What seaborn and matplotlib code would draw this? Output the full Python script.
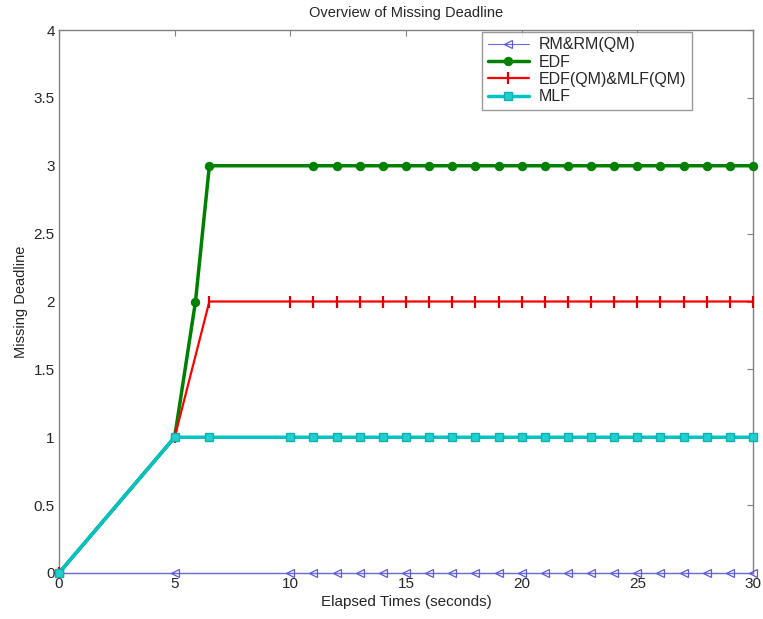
import matplotlib
matplotlib.use("Agg")
import matplotlib.pyplot as plt
import seaborn as sns
import pandas as pd

# Elapsed time (seconds) and missed-deadline counts per scheduling policy
tail = list(range(11, 31))
rm_x = [0, 5, 10] + tail
rm_y = [0] * len(rm_x)

edf_x = [0, 5, 5.9, 6.5] + tail
edf_y = [0, 1, 2, 3] + [3] * len(tail)

edfqm_x = [0, 5, 6.5, 10] + tail
edfqm_y = [0, 1, 2, 2] + [2] * len(tail)

mlf_x = [0, 5, 6.5, 10] + tail
mlf_y = [0, 1, 1, 1] + [1] * len(tail)

x_ticks = [0, 5, 10, 15, 20, 25, 30]
y_ticks = [0, 0.5, 1, 1.5, 2, 2.5, 3, 3.5, 4]
y_tick_labels = ["0", "0.5", "1", "1.5", "2", "2.5", "3", "3.5", "4"]

sns.set_style("white")
plt.rcParams["font.family"] = ["Liberation Sans", "DejaVu Sans"]

fig = plt.figure(figsize=(7.63, 6.19), dpi=100)
ax = fig.add_axes([59 / 763, 1 - 573 / 619, (753 - 59) / 763, (573 - 30) / 619])

series = [
    ("RM&RM(QM)", rm_x, rm_y, dict(color="#6a6ae6", marker="<", markersize=6,
                                   markerfacecolor="none", markeredgecolor="#5a5ae0",
                                   markeredgewidth=0.9, linewidth=0.8)),
    ("EDF", edf_x, edf_y, dict(color="#008000", marker="o", markersize=6,
                               markerfacecolor="#008000", markeredgecolor="#008000",
                               linewidth=2.5)),
    ("EDF(QM)&MLF(QM)", edfqm_x, edfqm_y, dict(color="#ff0000", marker="|", markersize=9,
                                                markeredgecolor="#e00000",
                                                markeredgewidth=1.6, linewidth=1.6)),
    ("MLF", mlf_x, mlf_y, dict(color="#00c4c4", marker="s", markersize=6,
                               markerfacecolor="#20d0d0", markeredgecolor="#10b0b0",
                               markeredgewidth=1.0, linewidth=2.5)),
]

for name, xs, ys, style in series:
    df = pd.DataFrame({"t": xs, "v": ys})
    sns.lineplot(data=df, x="t", y="v", ax=ax, sort=False, label=name,
                 estimator=None, clip_on=False, zorder=3, **style)

ax.set_xlim(0, 30)
ax.set_ylim(0, 4)
ax.set_xticks(x_ticks)
ax.set_xticklabels([str(t) for t in x_ticks])
ax.set_yticks(y_ticks)
ax.set_yticklabels(y_tick_labels)
ax.tick_params(direction="in", length=4, color="#808080", labelsize=11,
               top=True, right=True, pad=3)
for sp in ax.spines.values():
    sp.set_color("#808080")
    sp.set_linewidth(1.0)
    sp.set_zorder(1)

ax.set_xlabel("Elapsed Times (seconds)", fontsize=11, labelpad=3)
ax.set_ylabel("Missing Deadline", fontsize=10.5, labelpad=4)
ax.set_title("Overview of Missing Deadline", fontsize=10.5, pad=9)

leg = ax.legend(loc="upper right", bbox_to_anchor=(0.912, 0.997), fontsize=11.5,
                frameon=True, fancybox=False, borderpad=0.35, labelspacing=0.15,
                handlelength=2.6, handletextpad=0.6, borderaxespad=0)
leg.get_frame().set_edgecolor("#808080")
leg.get_frame().set_linewidth(1.0)
leg.set_zorder(5)

fig.savefig("out.png", dpi=100)
